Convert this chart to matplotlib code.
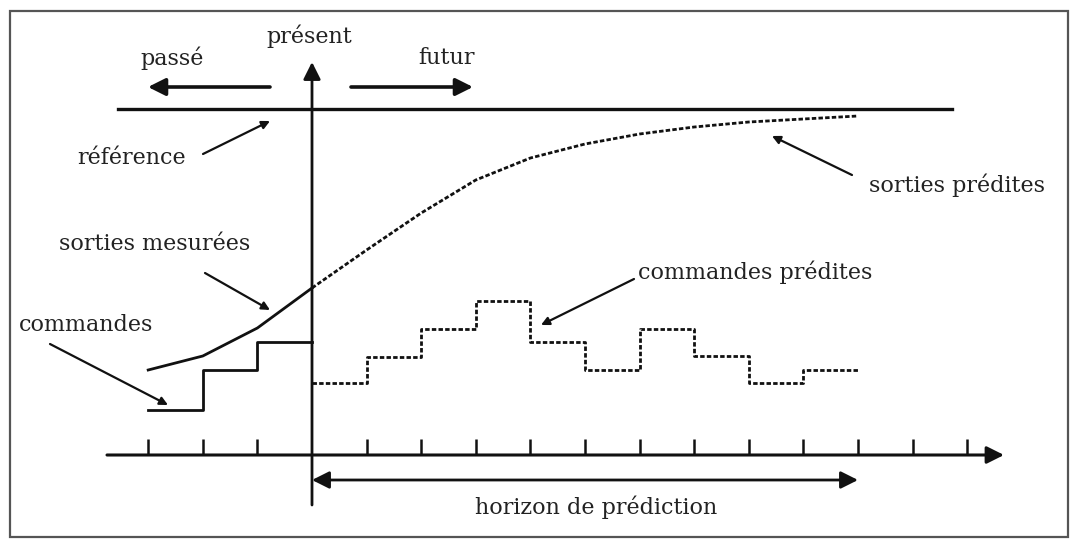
import matplotlib
matplotlib.use("Agg")
import matplotlib.pyplot as plt
from matplotlib.patches import Rectangle

# ---- data (time steps, k = 0 is "présent"; levels measured upward from the time axis) ----
reference_level = 34.6
past_steps = [-3, -2, -1, 0]
measured_outputs = [8.5, 9.9, 12.7, 16.7]
pred_steps = [0, 1, 2, 3, 4, 5, 6, 7, 8, 9, 10]
predicted_outputs = [16.7, 20.5, 24.2, 27.5, 29.7, 31.1, 32.1, 32.8, 33.3, 33.6, 33.9]
past_cmd_steps = [-3, -2, -1, 0]
past_commands = [4.5, 8.5, 11.3, 11.3]
pred_cmd_steps = [0, 1, 2, 3, 4, 5, 6, 7, 8, 9, 10]
predicted_commands = [7.2, 9.8, 12.6, 15.4, 11.3, 8.5, 12.6, 9.9, 7.2, 8.5, 8.5]
tick_steps = [-3, -2, -1, 1, 2, 3, 4, 5, 6, 7, 8, 9, 10, 11, 12]

labels = {
    "present": "présent", "past": "passé", "future": "futur",
    "ref": "référence", "meas": "sorties mesurées", "cmd": "commandes",
    "pcmd": "commandes prédites", "pout": "sorties prédites",
    "horizon": "horizon de prédiction",
}

# ---- layout helpers (pixel layout -> data coordinates) ----
X0, DX = 312.0, 54.6
Y0, DY = 455.0, 10.0
def X(px): return (px - X0) / DX
def Y(py): return (Y0 - py) / DY

W, H = 1073, 542
fig = plt.figure(figsize=(W / 100, H / 100), dpi=100)
ax = fig.add_axes([0, 0, 1, 1])
ax.set_xlim(X(0), X(W))
ax.set_ylim(Y(H), Y(0))
ax.axis("off")

FONT = dict(family=["DejaVu Serif"], size=16, color="#222222")
K = "#111111"

# frame
fig.patches.append(Rectangle((10 / W, 1 - 537 / H), 1058 / W, 526 / H, transform=fig.transFigure,
                             fill=False, edgecolor="#555555", lw=1.6))

def arrow(x0, y0, x1, y1, lw=2.0, ms=22, style="-|>"):
    ax.annotate("", xy=(x1, y1), xytext=(x0, y0),
                arrowprops=dict(arrowstyle=style, color=K, lw=lw, mutation_scale=ms,
                                shrinkA=0, shrinkB=0))

# time axis
arrow(X(107), 0, X(1004), 0, lw=2.2, ms=26)
for k in tick_steps:
    ax.plot([k, k], [0, Y(439)], color=K, lw=1.8, solid_capstyle="butt")

# present axis
arrow(0, Y(505), 0, Y(62), lw=2.0, ms=26)

# reference
ax.plot([X(118), X(952)], [reference_level, reference_level], color=K, lw=2.4)

# past / future arrows
arrow(X(270), Y(87), X(148), Y(87), lw=2.6, ms=26)
arrow(X(351), Y(87), X(473), Y(87), lw=2.6, ms=26)

# horizon arrow
arrow(0, Y(480), 10, Y(480), lw=2.0, ms=26, style="<|-|>")

# measured outputs
ax.plot(past_steps, measured_outputs, color=K, lw=2.0)
# predicted outputs
ax.plot(pred_steps, predicted_outputs, color=K, lw=2.0, linestyle=(0, (1.6, 0.8)))
# past commands
ax.step(past_cmd_steps, past_commands, where="post", color=K, lw=2.0)
# predicted commands
ax.step(pred_cmd_steps, predicted_commands, where="post", color=K, lw=2.0, linestyle=(0, (1.6, 0.8)))

# texts
ax.text(X(309), Y(36), labels["present"], ha="center", va="center", **FONT)
ax.text(X(172), Y(58), labels["past"], ha="center", va="center", **FONT)
ax.text(X(447), Y(58), labels["future"], ha="center", va="center", **FONT)
ax.text(X(132), Y(158), labels["ref"], ha="center", va="center", **FONT)
ax.text(X(155), Y(244), labels["meas"], ha="center", va="center", **FONT)
ax.text(X(86), Y(325), labels["cmd"], ha="center", va="center", **FONT)
ax.text(X(755), Y(272), labels["pcmd"], ha="center", va="center", **FONT)
ax.text(X(957), Y(185), labels["pout"], ha="center", va="center", **FONT)
ax.text(X(596), Y(507), labels["horizon"], ha="center", va="center", **FONT)

# annotation arrows
arrow(X(203), Y(154), X(270), Y(121), lw=1.6, ms=12)
arrow(X(205), Y(273), X(270), Y(310), lw=1.6, ms=12)
arrow(X(50), Y(344), X(168), Y(405), lw=1.6, ms=12)
arrow(X(634), Y(279), X(541), Y(325), lw=1.6, ms=12)
arrow(X(852), Y(175), X(772), Y(136), lw=1.6, ms=12)

fig.savefig("out.png", dpi=100)
